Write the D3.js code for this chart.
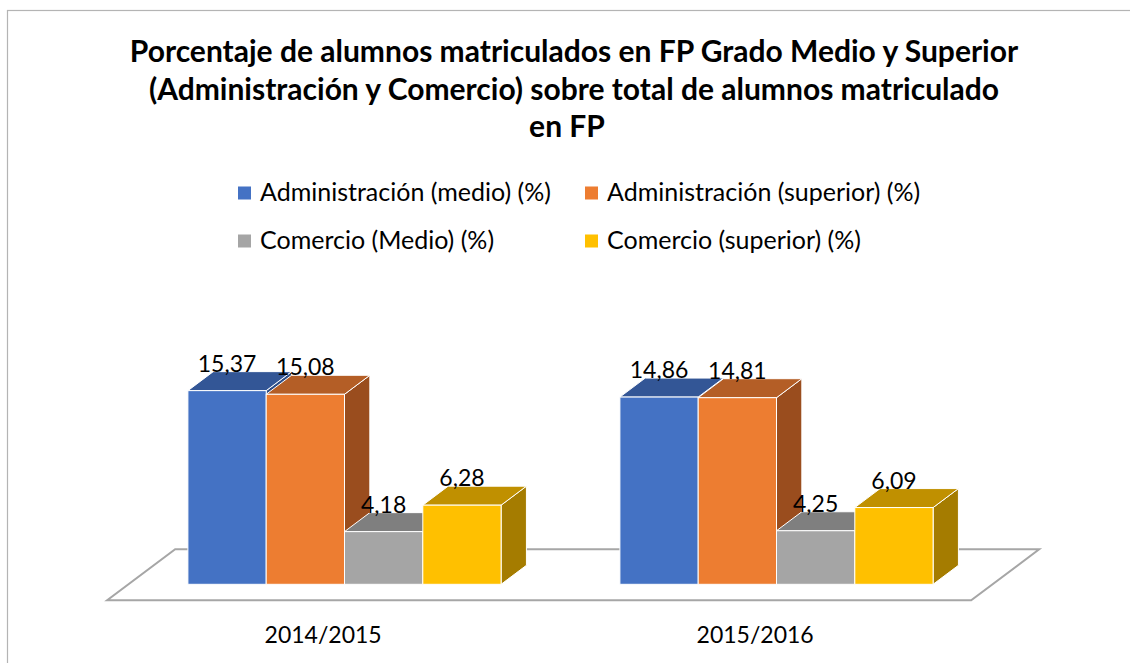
<!DOCTYPE html>
<html>
<head>
<meta charset="utf-8">
<script src="https://cdn.jsdelivr.net/npm/d3@7"></script>
<style>
  body { margin: 0; background: #fff; }
  svg { display: block; font-family: Lato, "Open Sans", sans-serif; }
</style>
</head>
<body>
<svg id="chart" width="1130" height="663"></svg>
<script>
// data
var categories = ["2014/2015", "2015/2016"];
var seriesNames = ["Administración (medio) (%)", "Administración (superior) (%)", "Comercio (Medio) (%)", "Comercio (superior) (%)"];
var admMedio = [15.37, 14.86];
var admSuperior = [15.08, 14.81];
var comMedio = [4.18, 4.25];
var comSuperior = [6.28, 6.09];
var titleLines = ["Porcentaje de alumnos matriculados en FP Grado Medio y Superior",
                  "(Administración y Comercio) sobre total de alumnos matriculado",
                  "en FP"];

// colours (front, top, side)
var frontColors = ["#4472C4", "#ED7D31", "#A5A5A5", "#FFC000"];
var topColors   = ["#335696", "#B45E26", "#7F7F7F", "#C09000"];
var sideColors  = ["#2C4C86", "#9A4D1E", "#6E6E6E", "#A57C00"];

function init(){

  var values = [admMedio, admSuperior, comMedio, comSuperior];
  var data = categories.map(function(c, i){
    return { cat: c, vals: values.map(function(s){ return s[i]; }) };
  });

  var svg = d3.select("#chart");
  var es = d3.formatLocale({decimal: ",", thousands: ".", grouping: [3], currency: ["", "€"]});
  var fmt = es.format(".2f");

  // oblique depth: dy per depth unit, dx = dy * 4/3
  var depth = 19, front = 16, back = 35;
  function ox(dz){ return dz * 4 / 3; }

  var x0 = d3.scaleBand()
      .domain(categories)
      .range([128.5, 992.5])
      .paddingInner(0.275)
      .paddingOuter(0.1375);

  var x1 = d3.scaleBand()
      .domain(d3.range(seriesNames.length))
      .range([0, x0.bandwidth()]);

  var y = d3.scaleLinear()
      .domain([0, 18])
      .range([584.3, 584.3 - 18 * 12.6]);

  // chart border
  svg.append("rect")
    .attr("x", 7.5).attr("y", 10.5)
    .attr("width", 1200).attr("height", 700)
    .attr("fill", "none")
    .attr("stroke", "#b4b4b4")
    .attr("stroke-width", 1.2);

  // title
  svg.append("g").selectAll("text")
    .data(titleLines)
    .enter().append("text")
      .attr("x", function(d, i){ return i < 2 ? 574 : 567; })
      .attr("y", function(d, i){ return 62 + i * 37.5; })
      .attr("text-anchor", "middle")
      .style("font-weight", "bold")
      .style("font-size", "30px")
      .attr("fill", "#000")
      .text(function(d){ return d; });

  // legend
  var legend = svg.append("g").selectAll("g")
    .data(seriesNames)
    .enter().append("g")
      .attr("transform", function(d, i){
        return "translate(" + (i % 2 === 0 ? 238 : 585) + "," + (i < 2 ? 193 : 241) + ")";
      });

  legend.append("rect")
    .attr("x", 0).attr("y", -6.5)
    .attr("width", 13).attr("height", 13)
    .attr("fill", function(d, i){ return frontColors[i]; });

  legend.append("text")
    .attr("x", 22)
    .attr("y", 7.5)
    .style("font-size", "25px")
    .attr("fill", "#000")
    .text(function(d){ return d; });

  // floor
  var r = x0.range(), y0 = y(0);
  var floor = [
    [r[0] - ox(front), y0 + front],
    [r[1] - ox(front), y0 + front],
    [r[1] + ox(back), y0 - back],
    [r[0] + ox(back), y0 - back]
  ];
  svg.append("polygon")
    .attr("points", floor.map(function(p){ return p.join(","); }).join(" "))
    .attr("fill", "#fff")
    .attr("stroke", "#a6a6a6")
    .attr("stroke-width", 2);

  // bars
  var groups = svg.append("g").selectAll("g")
    .data(data)
    .enter().append("g")
      .attr("transform", function(d){ return "translate(" + x0(d.cat) + ",0)"; });

  var bars = groups.selectAll("g")
    .data(function(d){ return d.vals; })
    .enter().append("g");

  bars.each(function(v, i){
    var g = d3.select(this);
    var xa = x1(i), xb = x1(i) + x1.bandwidth();
    var yt = y(v), yb = y(0);
    var dx = ox(depth);

    g.append("polygon")
      .attr("points", [[xb, yt], [xb + dx, yt - depth], [xb + dx, yb - depth], [xb, yb]].join(" "))
      .attr("fill", sideColors[i])
      .attr("stroke", "#fff").attr("stroke-width", 1);

    g.append("polygon")
      .attr("points", [[xa, yt], [xb, yt], [xb + dx, yt - depth], [xa + dx, yt - depth]].join(" "))
      .attr("fill", topColors[i])
      .attr("stroke", "#fff").attr("stroke-width", 1);

    g.append("rect")
      .attr("x", xa).attr("y", yt)
      .attr("width", x1.bandwidth()).attr("height", yb - yt)
      .attr("fill", frontColors[i])
      .attr("stroke", "#fff").attr("stroke-width", 1);
  });

  // value labels
  groups.selectAll("text.val")
    .data(function(d){ return d.vals; })
    .enter().append("text")
      .attr("class", "val")
      .attr("x", function(d, i){ return x1(i) + x1.bandwidth() / 2; })
      .attr("y", function(d){ return y(d) - depth; })
      .attr("text-anchor", "middle")
      .style("font-size", "23px")
      .attr("fill", "#000")
      .text(function(d){ return fmt(d); });

  // category labels
  svg.append("g").selectAll("text")
    .data(categories)
    .enter().append("text")
      .attr("x", function(d){ return x0(d) + x0.bandwidth() / 2 - ox(front); })
      .attr("y", 643)
      .attr("text-anchor", "middle")
      .style("font-size", "23px")
      .attr("fill", "#000")
      .text(function(d){ return d; });
}

window.onload = init;
</script>
</body>
</html>
